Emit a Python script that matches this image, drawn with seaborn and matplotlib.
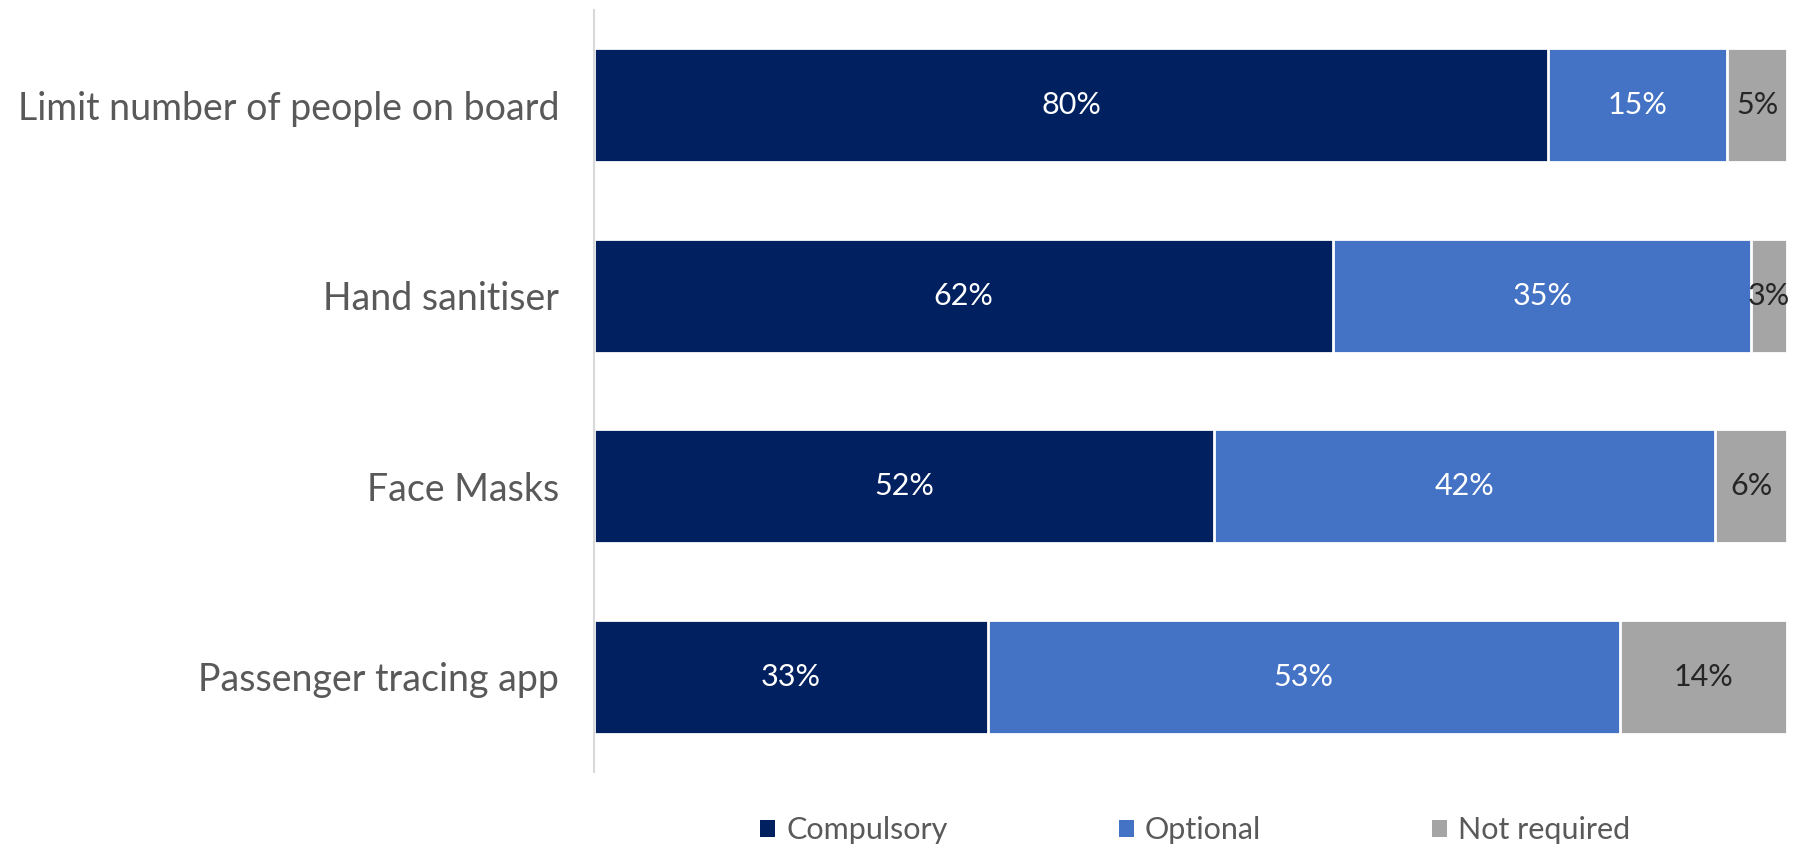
import numpy as np
import pandas as pd
import seaborn as sns
import matplotlib.pyplot as plt
from matplotlib.patches import Patch

# data
measures = ['Limit number of people on board', 'Hand sanitiser', 'Face Masks', 'Passenger tracing app']
compulsory = [80, 62, 52, 33]
optional = [15, 35, 42, 53]
not_required = [5, 3, 6, 14]
series_names = ['Compulsory', 'Optional', 'Not required']
colors = ['#002060', '#4472C4', '#A5A5A5']
label_colors = ['white', 'white', '#262626']

sns.set_style('white')
plt.rcParams['font.family'] = ['Lato', 'DejaVu Sans']

df = pd.DataFrame({'measure': measures, 'Compulsory': compulsory,
                   'Optional': optional, 'Not required': not_required})
df['c1'] = df['Compulsory']
df['c2'] = df['c1'] + df['Optional']
df['c3'] = df['c2'] + df['Not required']

fig = plt.figure(figsize=(17.94, 8.51), dpi=100)
ax = fig.add_axes([0.331, 0.0928, 0.665, 0.8955])

# stacked bars drawn as overlaid cumulative totals, longest first
for col, color in zip(['c3', 'c2', 'c1'], colors[::-1]):
    sns.barplot(data=df, y='measure', x=col, color=color, orient='h', width=0.6,
                edgecolor='white', linewidth=2.0, saturation=1, ax=ax)

# segment labels
for name, cum, tc in zip(series_names, ['c1', 'c2', 'c3'], label_colors):
    centers = df[cum] - df[name] / 2
    for i, (cx, v) in enumerate(zip(centers, df[name])):
        ax.text(cx, i, f'{v}%', ha='center', va='center', fontsize=22, color=tc)

ax.set_xlim(0, 100)
ax.set_ylim(3.5, -0.5)
ax.set_xlabel('')
ax.set_ylabel('')
ax.set_xticks([])
ax.tick_params(axis='y', length=0, pad=25, labelsize=27, labelcolor='#595959')
for s in ['top', 'right', 'bottom']:
    ax.spines[s].set_visible(False)
ax.spines['left'].set_color('#D9D9D9')
ax.spines['left'].set_linewidth(1.5)

handles = [Patch(facecolor=c, edgecolor='none') for c in colors]
ax.legend(handles, series_names, loc='upper center', bbox_to_anchor=(0.504, -0.022), ncol=3,
          frameon=False, fontsize=22, labelcolor='#595959', handlelength=0.5, handleheight=0.5,
          handletextpad=0.35, columnspacing=5.6)

fig.savefig('out.png', dpi=100)
